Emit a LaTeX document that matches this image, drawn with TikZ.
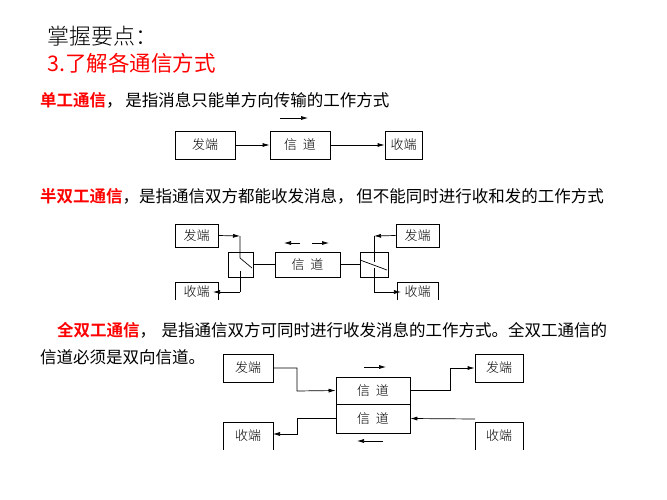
\documentclass[tikz,border=0pt]{standalone}
\usepackage{fontspec}
\newfontfamily\cjk{Noto Sans CJK SC}
\newfontfamily\cjkb{Noto Sans CJK SC Bold}
\newfontfamily\cjkl{Noto Sans CJK SC Light}
\setmainfont{Liberation Sans}
\usetikzlibrary{arrows.meta}
\begin{document}
\begin{tikzpicture}[x=1pt,y=-1pt,
  bx/.style={draw,line width=0.7pt,inner sep=0pt,font=\cjkl\fontsize{13}{13}\selectfont},
  lb/.style={font=\cjkl\fontsize{13}{13}\selectfont},
  ln/.style={line width=0.7pt},
  ar/.style={ln,-{Latex[length=7pt,width=4pt]}},
  txt/.style={anchor=base west,inner sep=0pt,font=\cjk\fontsize{16.5}{16.5}\selectfont}]
\useasboundingbox (0,0) rectangle (667,500);
\node[anchor=base west,inner sep=0pt,font=\cjkl\fontsize{22}{22}\selectfont] (t1) at (47,45) {掌握要点：};
\node[anchor=base west,inner sep=0pt,text=red,font=\cjk\fontsize{21.5}{21.5}\selectfont] (t2) at (47,72) {3.了解各通信方式};
\node[txt] (l1) at (40,107) {\textcolor{red}{\cjkb 单工通信}，\,是指消息只能单方向传输的工作方式};
\node[txt] (l2) at (40,202) {\textcolor{red}{\cjkb 半双工通信}，是指通信双方都能收发消息，\,但不能同时进行收和发的工作方式};
\node[txt] (l3) at (57,336) {\textcolor{red}{\cjkb 全双工通信}，\,\,是指通信双方可同时进行收发消息的工作方式。全双工通信的};
\node[txt] (l4) at (40,363) {信道必须是双向信道。};
% simplex
\node[bx,minimum width=60pt,minimum height=28pt] (a1) at (205,145) {发端};
\node[bx,minimum width=60pt,minimum height=28pt] (a2) at (300,145) {信\ \ 道};
\node[bx,minimum width=37pt,minimum height=28pt] (a3) at (403.5,145) {收端};
\draw[ar] (a1) -- (a2);
\draw[ar] (a2) -- (a3);
\coordinate (u1) at (280,118); \coordinate (u2) at (308,118);
\draw[ar] (u1) -- (u2);
% half duplex
\node[bx,minimum width=43pt,minimum height=23pt] (b1) at (196.5,235.5) {发端};
\node[bx,minimum width=43pt,minimum height=23pt] (b4) at (417.5,235.5) {发端};
\draw[ln] (175,300) |- (218,282) -- (218,300);
\node[lb] (b2) at (196.5,292) {收端};
\draw[ln] (397,300) |- (438,282) -- (438,300);
\node[lb] (b3) at (417.5,292) {收端};
\node[bx,minimum width=25pt,minimum height=25pt] (s1) at (240.5,264.5) {};
\node[bx,minimum width=28pt,minimum height=25pt] (s2) at (374,264.5) {};
\node[bx,minimum width=65pt,minimum height=25pt] (c) at (307.5,264.5) {信\ \ 道};
\coordinate (p1) at (240,236); \coordinate (p2) at (240,292);
\coordinate (p3) at (374,236); \coordinate (p4) at (374,292);
\draw[ar] (b1.east) -- (p1);
\draw[ln] (p1) -- (240,258) -- (252,268);
\draw[ln] (240,271) -- (p2); \draw[ar] (p2) -- (b2.east);
\draw[ln] (s1.east|-c.west) -- (c.west);
\draw[ln] (c.east) -- (360,264.5);
\draw[ln] (360,260) -- (387,270);
\draw[ar] (b4.west) -- (p3); \draw[ln] (p3) -- (374,262);
\draw[ln] (374,268) -- (p4); \draw[ar] (p4) -- (b3.west);
\coordinate (h1) at (300,243); \coordinate (h2) at (284,243);
\coordinate (h3) at (312,243); \coordinate (h4) at (329,243);
\draw[ar] (h1) -- (h2); \draw[ar] (h3) -- (h4);
% full duplex
\node[bx,minimum width=50pt,minimum height=28pt] (d1) at (248,368) {发端};
\node[bx,minimum width=48pt,minimum height=28pt] (d4) at (499,368) {发端};
\draw[ln] (223,450) |- (273,422) -- (273,450);
\node[lb] (d2) at (248,436) {收端};
\draw[ln] (475,450) |- (523,422) -- (523,450);
\node[lb] (d3) at (499,436) {收端};
\node[bx,minimum width=74pt,minimum height=27pt] (e1) at (373,390.5) {信\ \ 道};
\node[bx,minimum width=74pt,minimum height=29pt] (e2) at (373,418.5) {信\ \ 道};
\draw[ar] (d1.east) -| (297,391) -- (e1.west);
\draw[ar] (e1.east) -| (450,368) -- (d4.west);
\draw[ar] (475,419) -- (e2.east);
\draw[ar] (e2.west) -| (297,434) -- (273,434);
\coordinate (f1) at (364,367); \coordinate (f2) at (386,367);
\coordinate (f3) at (383,441); \coordinate (f4) at (357,441);
\draw[ar] (f1) -- (f2); \draw[ar] (f3) -- (f4);
\end{tikzpicture}
\end{document}
